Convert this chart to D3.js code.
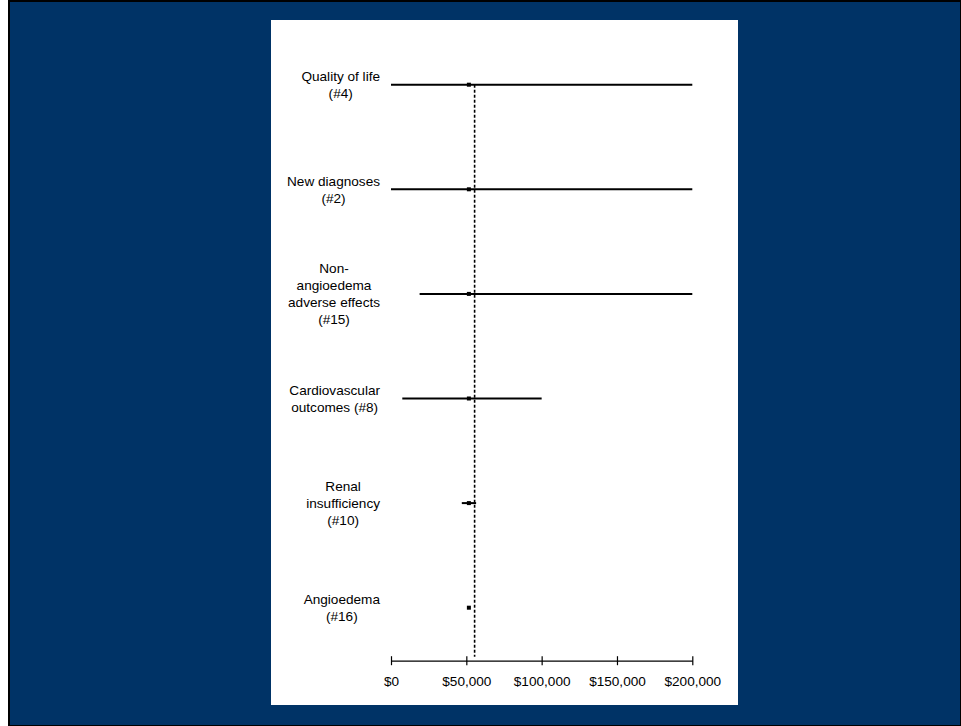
<!DOCTYPE html>
<html>
<head>
<meta charset="utf-8">
<script src="https://cdn.jsdelivr.net/npm/d3@7"></script>
<style>
  html, body { margin: 0; padding: 0; background: #ffffff; }
  svg { display: block; }
  text { font-family: "Liberation Sans", Arial, sans-serif; fill: #000; }
</style>
</head>
<body>
<script>
// One-way sensitivity analysis: cost per QALY range for each varied input
const categories = ["qol", "newdx", "nonangio", "cardio", "renal", "angio"];
const labelLines = [
  ["Quality of life", "(#4)"],
  ["New diagnoses", "(#2)"],
  ["Non-", "angioedema", "adverse effects", "(#15)"],
  ["Cardiovascular", "outcomes (#8)"],
  ["Renal", "insufficiency", "(#10)"],
  ["Angioedema", "(#16)"]
];
const lowValues   = [0, 0, 19000, 7500, 47000, null];
const highValues  = [200000, 200000, 200000, 100000, 56500, null];
const pointValues = [51700, 51700, 51700, 51700, 51700, 51700];
const baseCaseValue = 55500;
const tickValues = [0, 50000, 100000, 150000, 200000];
const tickLabels = ["$0", "$50,000", "$100,000", "$150,000", "$200,000"];

const W = 961, H = 726;
const svg = d3.select("body").append("svg").attr("width", W).attr("height", H);

// Slide frame: black edge, navy field, white chart panel
svg.append("rect").attr("x", 8).attr("y", 0).attr("width", W - 8).attr("height", H).attr("fill", "#000");
svg.append("rect").attr("x", 10).attr("y", 2).attr("width", W - 11).attr("height", H - 3).attr("fill", "#003366");
svg.append("rect").attr("x", 271).attr("y", 20).attr("width", 467).attr("height", 685).attr("fill", "#ffffff");

const x = d3.scaleLinear().domain([0, 200000]).range([391, 692.3]);
const y = d3.scalePoint().domain(categories).range([84.7, 607.7]);
const axisY = 660.7;

// Base-case reference line
svg.append("line")
  .attr("x1", x(baseCaseValue)).attr("x2", x(baseCaseValue))
  .attr("y1", y(categories[0])).attr("y2", axisY - 4)
  .attr("stroke", "#000").attr("stroke-width", 1.6)
  .attr("stroke-dasharray", "3,2");

// Range bars
const rows = categories.map((c, i) => ({ c, lo: lowValues[i], hi: highValues[i], pt: pointValues[i], lines: labelLines[i] }));

svg.append("g").selectAll("line")
  .data(rows.filter(d => d.lo !== null))
  .join("line")
  .attr("x1", d => x(d.lo)).attr("x2", d => x(d.hi))
  .attr("y1", d => y(d.c)).attr("y2", d => y(d.c))
  .attr("stroke", "#000").attr("stroke-width", 2);

// Point estimates
svg.append("g").selectAll("rect")
  .data(rows)
  .join("rect")
  .attr("x", d => x(d.pt) - 2).attr("y", d => y(d.c) - 2)
  .attr("width", 4).attr("height", 4)
  .attr("fill", "#000");

// Row labels: lines centered on each other, block right-aligned
const labelRight = 380, lineH = 17, fs = 13.6;
const lg = svg.append("g");
rows.forEach(d => {
  const g = lg.append("g");
  const n = d.lines.length;
  const top = y(d.c) - (n - 1) * lineH / 2;
  const t = g.selectAll("text").data(d.lines).join("text")
    .attr("font-size", fs)
    .attr("text-anchor", "middle")
    .attr("y", (s, k) => top + k * lineH + fs * 0.35)
    .text(s => s);
  let maxW = 0;
  t.each(function () { maxW = Math.max(maxW, this.getComputedTextLength()); });
  t.attr("x", labelRight - maxW / 2);
});

// X axis
const axis = d3.axisBottom(x)
  .tickValues(tickValues)
  .tickFormat((v, i) => tickLabels[i])
  .tickSizeInner(4.5)
  .tickSizeOuter(0);
const ag = svg.append("g").attr("transform", `translate(0,${axisY})`).call(axis);
ag.select(".domain").attr("stroke", "#000").attr("stroke-width", 1.3);
ag.selectAll(".tick line").attr("y1", -4.5).attr("y2", 4.5).attr("stroke", "#000").attr("stroke-width", 1.2);
ag.selectAll(".tick text")
  .attr("y", 25).attr("dy", 0)
  .attr("font-size", fs)
  .attr("font-family", "Liberation Sans, Arial, sans-serif")
  .attr("fill", "#000");
</script>
</body>
</html>
